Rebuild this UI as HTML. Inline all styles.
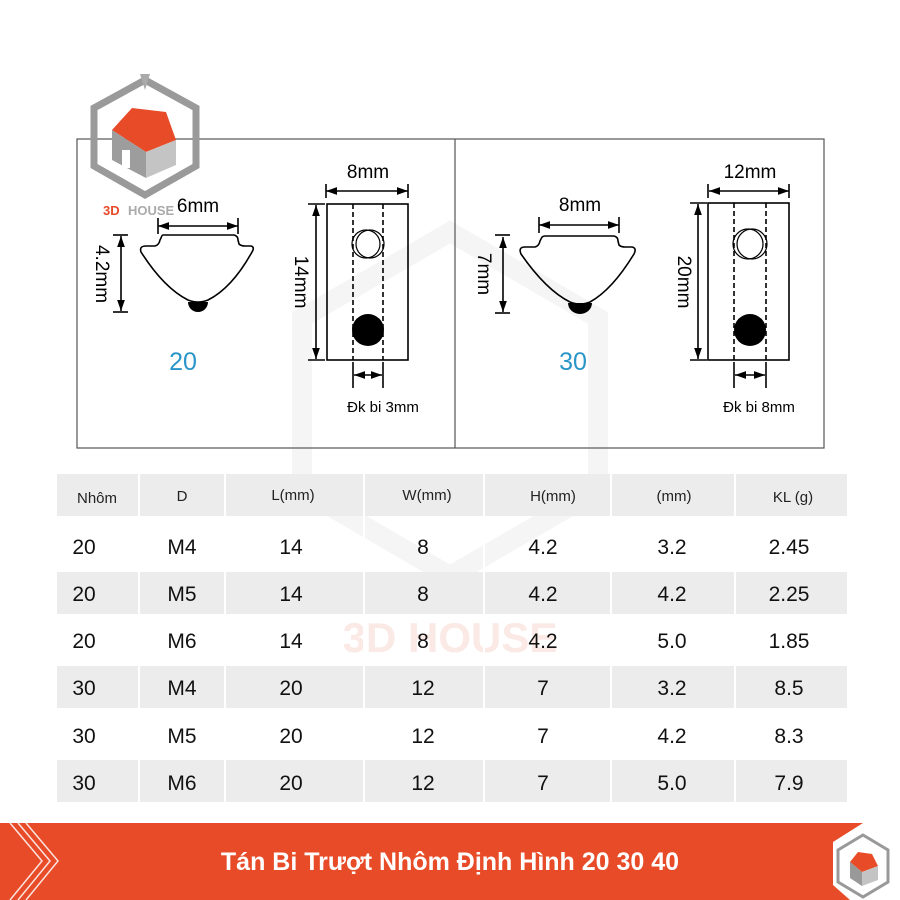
<!DOCTYPE html>
<html><head><meta charset="utf-8"><style>
body{margin:0;width:900px;height:900px;background:#fff;overflow:hidden;font-family:"Liberation Sans",sans-serif}
svg{position:absolute;left:0;top:0}
</style></head><body>
<svg width="900" height="900" viewBox="0 0 900 900" xmlns="http://www.w3.org/2000/svg" font-family="Liberation Sans, DejaVu Sans, sans-serif">
<defs>
<marker id="a" viewBox="0 0 10 10" refX="10" refY="5" markerWidth="7" markerHeight="7" orient="auto-start-reverse"><path d="M0,1.5 L10,5 L0,8.5 z" fill="#000"/></marker>
</defs>
<!-- watermark -->
<g opacity="0.04" fill="none" stroke="#000" stroke-width="20">
<polygon points="450,232 598,318 598,490 450,576 302,490 302,318"/>
</g>
<text x="450" y="652" font-size="42" font-weight="bold" text-anchor="middle" fill="#f3c9bd" opacity="0.4">3D HOUSE</text>
<!-- boxes -->
<rect x="77" y="139" width="747" height="309" fill="none" stroke="#555" stroke-width="1.2"/>
<line x1="455" y1="139" x2="455" y2="448" stroke="#555" stroke-width="1.2"/>
<!-- left profile -->
<g fill="none" stroke="#000" stroke-width="1.6">
<path d="M163,235 L234,235 Q238,236 238,240 L239,244 Q241,246 245,246 L251,246 Q255,247 252,252 Q232,288 208,300 Q198,304 188,300 Q164,288 141,252 Q139,246 146,246 L155,246 Q159,245 160,240 L161,238 Q162,235 163,235 z"/>
<line x1="158" y1="226" x2="238" y2="226" marker-start="url(#a)" marker-end="url(#a)"/>
<line x1="158" y1="218" x2="158" y2="234"/><line x1="238" y1="218" x2="238" y2="234"/>
<line x1="121" y1="236" x2="121" y2="311" marker-start="url(#a)" marker-end="url(#a)"/>
<line x1="113" y1="235" x2="128" y2="235"/><line x1="113" y1="312" x2="128" y2="312"/>
<rect x="327" y="204" width="81" height="156"/>
<line x1="353" y1="204" x2="353" y2="360" stroke-dasharray="5,3"/>
<line x1="383" y1="204" x2="383" y2="360" stroke-dasharray="5,3"/>
<circle cx="366" cy="244" r="14" stroke-width="1.2"/><circle cx="370" cy="244" r="14" stroke-width="1.2"/>
<line x1="326" y1="191" x2="408" y2="191" marker-start="url(#a)" marker-end="url(#a)"/>
<line x1="326" y1="184" x2="326" y2="198"/><line x1="408" y1="184" x2="408" y2="198"/>
<line x1="316" y1="205" x2="316" y2="359" marker-start="url(#a)" marker-end="url(#a)"/>
<line x1="308" y1="204" x2="325" y2="204"/><line x1="308" y1="360" x2="325" y2="360"/>
<line x1="353" y1="362" x2="353" y2="388"/><line x1="383" y1="362" x2="383" y2="388"/>
<line x1="354" y1="375" x2="382" y2="375" marker-start="url(#a)" marker-end="url(#a)"/>
</g>
<path d="M188,302 A10,10 0 0 0 208,302 Z" fill="#000"/>
<circle cx="368" cy="330" r="16" fill="#000"/>
<g font-size="19" fill="#000" text-anchor="middle">
<text x="198" y="212">6mm</text>
<text x="368" y="178">8mm</text>
<text transform="translate(96,274) rotate(90)">4.2mm</text>
<text transform="translate(295,282) rotate(90)">14mm</text>
<text x="383" y="412" font-size="15">Đk bi 3mm</text>
</g>
<text x="183" y="370" font-size="25" fill="#2a95c8" text-anchor="middle">20</text>
<!-- right profile -->
<g fill="none" stroke="#000" stroke-width="1.6">
<path d="M545,236 L614,236 Q618,237 618,241 L619,245 Q621,247 625,247 L632,247 Q637,248 634,254 Q612,290 590,302 Q580,306 570,302 Q546,290 521,254 Q518,247 525,247 L535,247 Q539,246 540,241 L541,239 Q542,236 545,236 z"/>
<line x1="539" y1="225" x2="619" y2="225" marker-start="url(#a)" marker-end="url(#a)"/>
<line x1="539" y1="217" x2="539" y2="233"/><line x1="619" y1="217" x2="619" y2="233"/>
<line x1="503" y1="237" x2="503" y2="312" marker-start="url(#a)" marker-end="url(#a)"/>
<line x1="495" y1="235" x2="510" y2="235"/><line x1="495" y1="313" x2="510" y2="313"/>
<rect x="708" y="203" width="81" height="157"/>
<line x1="734" y1="203" x2="734" y2="360" stroke-dasharray="5,3"/>
<line x1="766" y1="203" x2="766" y2="360" stroke-dasharray="5,3"/>
<circle cx="748" cy="244" r="15" stroke-width="1.2"/><circle cx="752" cy="244" r="15" stroke-width="1.2"/>
<line x1="709" y1="191" x2="789" y2="191" marker-start="url(#a)" marker-end="url(#a)"/>
<line x1="708" y1="184" x2="708" y2="198"/><line x1="789" y1="184" x2="789" y2="198"/>
<line x1="698" y1="204" x2="698" y2="359" marker-start="url(#a)" marker-end="url(#a)"/>
<line x1="690" y1="203" x2="707" y2="203"/><line x1="690" y1="360" x2="707" y2="360"/>
<line x1="734" y1="362" x2="734" y2="388"/><line x1="766" y1="362" x2="766" y2="388"/>
<line x1="735" y1="375" x2="765" y2="375" marker-start="url(#a)" marker-end="url(#a)"/>
</g>
<path d="M568,303 A12,11 0 0 0 592,303 Z" fill="#000"/>
<circle cx="750" cy="330" r="16" fill="#000"/>
<g font-size="19" fill="#000" text-anchor="middle">
<text x="580" y="211">8mm</text>
<text x="750" y="178">12mm</text>
<text transform="translate(478,274) rotate(90)">7mm</text>
<text transform="translate(678,282) rotate(90)">20mm</text>
<text x="759" y="412" font-size="15">Đk bi 8mm</text>
</g>
<text x="573" y="370" font-size="25" fill="#2a95c8" text-anchor="middle">30</text>
<!-- top-left logo -->
<polygon points="145,80 196,108 196,166 145,195 94,166 94,108" fill="none" stroke="#9a9a9a" stroke-width="7"/>
<path d="M140,74 L150,74 L145,90 Z" fill="#aaa"/>
<polygon points="112,130 132,108 166,112 176,140 146,152 112,130" fill="#e84b28"/>
<polygon points="112,130 146,152 146,178 112,160" fill="#9d9d9d"/>
<polygon points="146,152 176,140 176,165 146,178" fill="#c4c4c4"/>
<rect x="122" y="150" width="8" height="18" fill="#fff"/>
<text x="103" y="215" font-size="13" font-weight="bold" fill="#e84b28">3D</text>
<text x="128" y="215" font-size="13" font-weight="bold" fill="#aaa">HOUSE</text>
<!-- table -->
<g fill="#ececec">
<rect x="57" y="474" width="790" height="42"/>
<rect x="57" y="572" width="790" height="42"/>
<rect x="57" y="666" width="790" height="42"/>
<rect x="57" y="760" width="790" height="42"/>
</g>
<g stroke="#fff" stroke-width="2">
<line x1="139" y1="474" x2="139" y2="802"/><line x1="225" y1="474" x2="225" y2="802"/>
<line x1="364" y1="474" x2="364" y2="802"/><line x1="484" y1="474" x2="484" y2="802"/>
<line x1="611" y1="474" x2="611" y2="802"/><line x1="735" y1="474" x2="735" y2="802"/>
</g>
<g font-size="15" fill="#222" text-anchor="middle">
<text x="97" y="503">Nhôm</text><text x="182" y="501">D</text><text x="293" y="500">L(mm)</text>
<text x="427" y="500">W(mm)</text><text x="553" y="501">H(mm)</text><text x="674" y="501">(mm)</text><text x="793" y="502">KL (g)</text>
</g>
<g font-size="21" fill="#111" text-anchor="middle">
<text x="84" y="554">20</text><text x="182" y="554">M4</text><text x="291" y="554">14</text><text x="423" y="554">8</text><text x="543" y="554">4.2</text><text x="672" y="554">3.2</text><text x="789" y="554">2.45</text>
<text x="84" y="601">20</text><text x="182" y="601">M5</text><text x="291" y="601">14</text><text x="423" y="601">8</text><text x="543" y="601">4.2</text><text x="672" y="601">4.2</text><text x="789" y="601">2.25</text>
<text x="84" y="648">20</text><text x="182" y="648">M6</text><text x="291" y="648">14</text><text x="423" y="648">8</text><text x="543" y="648">4.2</text><text x="672" y="648">5.0</text><text x="789" y="648">1.85</text>
<text x="84" y="695">30</text><text x="182" y="695">M4</text><text x="291" y="695">20</text><text x="423" y="695">12</text><text x="543" y="695">7</text><text x="672" y="695">3.2</text><text x="789" y="695">8.5</text>
<text x="84" y="743">30</text><text x="182" y="743">M5</text><text x="291" y="743">20</text><text x="423" y="743">12</text><text x="543" y="743">7</text><text x="672" y="743">4.2</text><text x="789" y="743">8.3</text>
<text x="84" y="790">30</text><text x="182" y="790">M6</text><text x="291" y="790">20</text><text x="423" y="790">12</text><text x="543" y="790">7</text><text x="672" y="790">5.0</text><text x="789" y="790">7.9</text>
</g>
<!-- banner -->
<polygon points="0,823 863,823 833,842 833,885 850,900 0,900" fill="#e84b28"/>
<g stroke="#fff" stroke-width="1.5" fill="none" opacity="0.85">
<polyline points="18,823 50,861 18,900"/><polyline points="26,823 58,861 26,900"/><polyline points="10,823 42,861 10,900"/>
</g>
<text x="450" y="870" font-size="25" fill="#fff" text-anchor="middle" font-weight="bold">Tán Bi Trượt Nhôm Định Hình 20 30 40</text>
<polygon points="863,835 888,850 888,882 863,897 838,882 838,850" fill="none" stroke="#999" stroke-width="3"/>
<polygon points="850,862 858,852 872,854 878,866 862,872" fill="#e84b28"/>
<polygon points="850,862 862,872 862,886 850,878" fill="#999"/>
<polygon points="862,872 878,866 878,880 862,886" fill="#c4c4c4"/>
</svg>
</body></html>
